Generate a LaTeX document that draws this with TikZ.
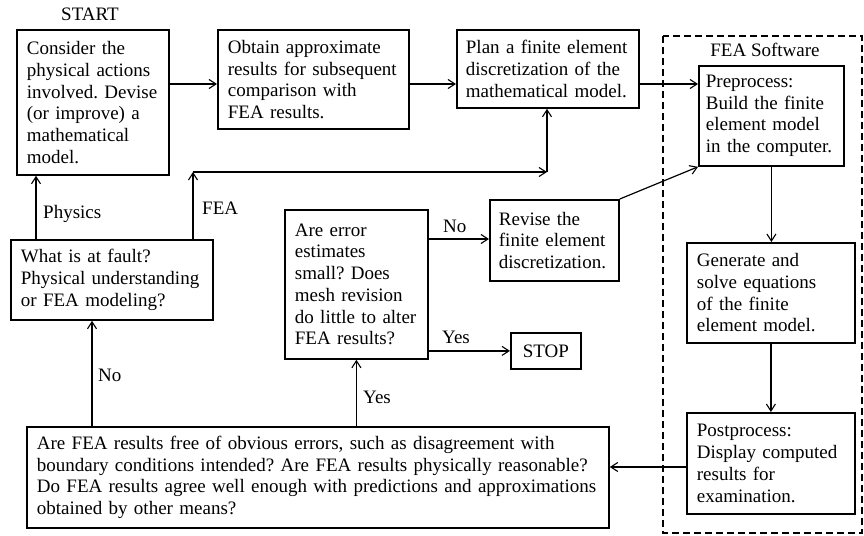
\documentclass[tikz,border=0pt]{standalone}
\usepackage{fontspec}
\setmainfont{Liberation Serif}
\usetikzlibrary{arrows.meta}
\frenchspacing
\begin{document}
\begin{tikzpicture}[x=1pt,y=-1pt,
  every node/.style={font=\fontsize{19}{21.7}\selectfont},
  box/.style={draw, line width=1.8pt, inner sep=0pt, anchor=north west, align=left},
  arr/.style={line width=1.2pt, -{Straight Barb[length=7pt,width=9pt,line width=1.1pt]}},
  lbl/.style={inner sep=0pt},
  frame/.style={draw, line width=1.2pt, dash pattern=on 7pt off 4pt}]
\useasboundingbox (0,0) rectangle (864,535);

% frame of the FEA software
\draw[frame] (663,36) rectangle (862,533);
\node[lbl] (sw) at (765,50) {FEA Software};
\node[lbl] (start) at (90,14) {START};

% boxes
\node[box, minimum width=152pt, minimum height=145pt, text width=132pt] (consider) at (16,29)
  {Consider the\\physical actions\\involved. Devise\\(or improve) a\\mathematical\\model.};
\node[box, minimum width=191pt, minimum height=99pt, text width=171pt] (obtain) at (217,29)
  {Obtain approximate\\results for subsequent\\comparison with\\FEA results.};
\node[box, minimum width=182pt, minimum height=78pt, text width=164pt] (plan) at (456,29)
  {Plan a finite element\\discretization of the\\mathematical model.};
\node[box, minimum width=145pt, minimum height=100pt, text width=131pt] (pre) at (698,65)
  {Preprocess:\\Build the finite\\element model\\in the computer.};
\node[box, minimum width=168pt, minimum height=100pt, text width=148pt] (gen) at (686,242)
  {Generate and\\solve equations\\of the finite\\element model.};
\node[box, minimum width=168pt, minimum height=101pt, text width=148pt] (post) at (686,412)
  {Postprocess:\\Display computed\\results for\\examination.};
\node[box, minimum width=202pt, minimum height=80pt, text width=182pt] (fault) at (10,239)
  {What is at fault?\\Physical understanding\\or FEA modeling?};
\node[box, minimum width=143pt, minimum height=149pt, text width=123pt] (are) at (284,209)
  {Are error\\estimates\\small? Does\\mesh revision\\do little to alter\\FEA results?};
\node[box, minimum width=129pt, minimum height=81pt, text width=111pt] (revise) at (489,199)
  {Revise the\\finite element\\discretization.};
\node[box, align=center, minimum width=70pt, minimum height=36pt] (stop) at (510,332) {STOP};
\node[box, minimum width=582pt, minimum height=101pt, text width=562pt] (bottom) at (26,426)
  {Are FEA results free of obvious errors, such as disagreement with\\boundary conditions intended? Are FEA results physically reasonable?\\Do FEA results agree well enough with predictions and approximations\\obtained by other means?};

% helper coordinates
\coordinate (r84) at (0,84);
\coordinate (r467) at (0,467);
\coordinate (r239) at (0,239);
\coordinate (c92) at (92,0);
\coordinate (c36) at (36,0);
\coordinate (fa) at (193,172);
\coordinate (fb) at (547,172);

% connectors
\draw[arr] (consider.east |- r84) -- (obtain.west |- r84);
\draw[arr] (obtain.east |- r84) -- (plan.west |- r84);
\draw[arr] (plan.east |- r84) -- (pre.west |- r84);
\draw[arr] (pre.south) -- (pre.south |- gen.north);
\draw[arr] (gen.south) -- (gen.south |- post.north);
\draw[arr] (post.west |- r467) -- (bottom.east |- r467);
\draw[arr] (bottom.north -| c92) -- (fault.south -| c92);
\draw[arr] (bottom.north -| are.south) -- (are.south);
\draw[arr] (fault.north -| c36) -- (consider.south -| c36);
\draw[arr] (fault.north -| fa) -- (fa);
\draw[arr] (fa) -- (fb);
\draw[arr] (fb) -- (plan.south -| fb);
\draw[arr] (are.east |- r239) -- (revise.west |- r239);
\draw[arr] (are.east |- stop.west) -- (stop.west);
\draw[arr] (revise.north east) -- (pre.south west);

% labels
\node[lbl, anchor=base west] (lphys) at (43,218) {Physics};
\node[lbl, anchor=base west] (lfea) at (202,214) {FEA};
\node[lbl, anchor=base west] (lno1) at (443,232) {No};
\node[lbl, anchor=base west] (lyes1) at (442,343) {Yes};
\node[lbl, anchor=base west] (lno2) at (98,381) {No};
\node[lbl, anchor=base west] (lyes2) at (363,403) {Yes};
\end{tikzpicture}
\end{document}
